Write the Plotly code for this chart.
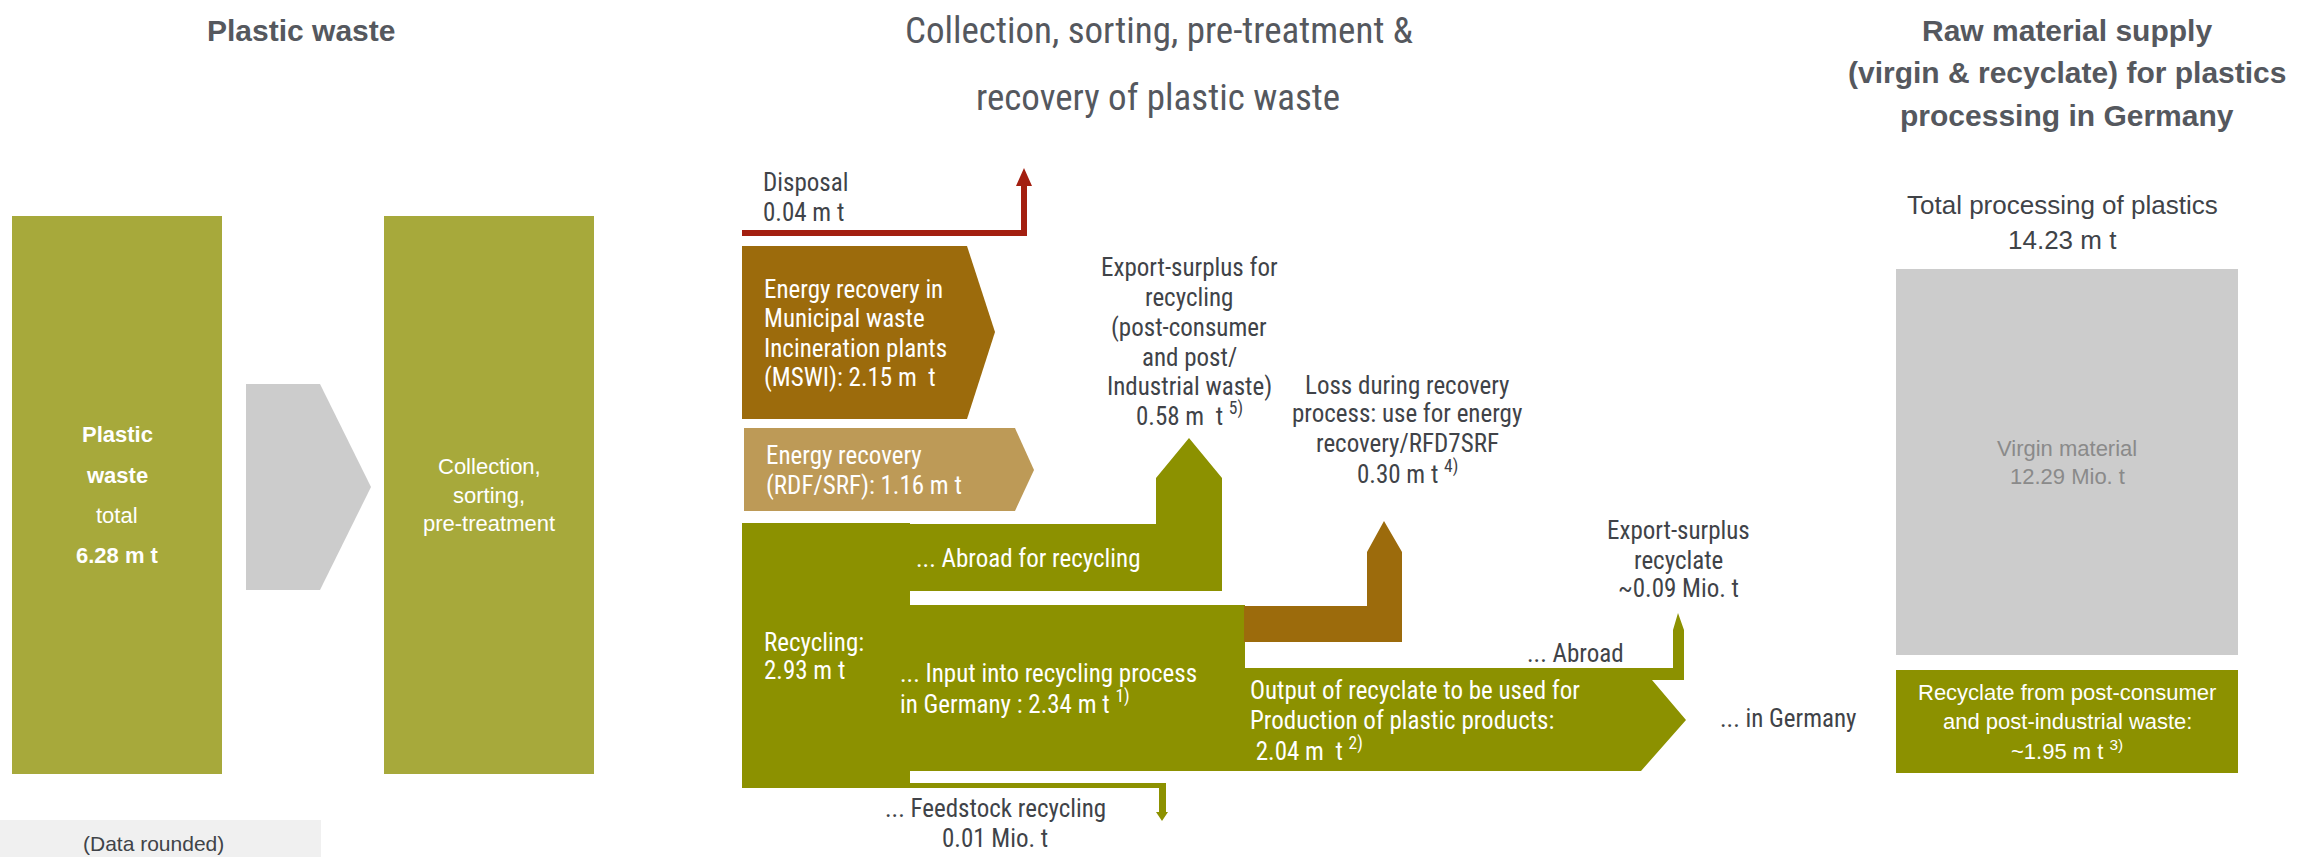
import plotly.graph_objects as go

W, H = 2297, 857

# ---------------- data (million tonnes) ----------------
plastic_waste_total = 6.28
flow_names = ["Disposal", "Energy recovery MSWI", "Energy recovery RDF/SRF", "Recycling",
              "Abroad for recycling", "Input into recycling in Germany", "Feedstock recycling",
              "Loss during recovery", "Output of recyclate", "Export-surplus recyclate"]
flow_values = [0.04, 2.15, 1.16, 2.93, 0.58, 2.34, 0.01, 0.30, 2.04, 0.09]
supply_names = ["Total processing of plastics", "Virgin material", "Recyclate"]
supply_values = [14.23, 12.29, 1.95]
stage_titles = ["Plastic waste",
                "Collection, sorting, pre-treatment &", "recovery of plastic waste",
                "Raw material supply", "(virgin & recyclate) for plastics", "processing in Germany"]

V = dict(zip(flow_names, flow_values))
S = dict(zip(supply_names, supply_values))

# ---------------- styles ----------------
OLIVE_LIGHT = "#a7a93b"
OLIVE = "#8c9100"
BROWN = "#9c6b0c"
TAN = "#bd9a57"
RED = "#a31f10"
GRAY = "#cccccc"
TXT = "#404348"
TITLE = "#55585e"
NARROW = "Roboto Condensed, DejaVu Sans Condensed, sans-serif"
SANS = "Liberation Sans, Arial, Helvetica, sans-serif"
FS = 25  # diagram text size

fig = go.Figure()


def poly(pts, color):
    path = "M " + " L ".join(f"{x} {y}" for x, y in pts) + " Z"
    fig.add_shape(type="path", path=path, fillcolor=color, line_width=0,
                  xref="x", yref="y", layer="below")


def rect(x0, y0, x1, y1, color):
    fig.add_shape(type="rect", x0=x0, y0=y0, x1=x1, y1=y1, fillcolor=color,
                  line_width=0, xref="x", yref="y", layer="below")


def text(x, y, s, size=FS, color=TXT, family=NARROW, anchor="left", bold=False):
    if bold:
        s = f"<b>{s}</b>"
    fig.add_annotation(x=x, y=y, text=s, showarrow=False, xref="x", yref="y",
                       xanchor=anchor, yanchor="middle",
                       font=dict(size=size, color=color, family=family))


def mt(v, sep=" "):
    return f"{v:.2f} m{sep}t"


# ---------------- layout geometry (pixels) ----------------
# left boxes
rect(12, 216, 222, 774, OLIVE_LIGHT)
poly([(246, 384), (320, 384), (371, 487), (320, 590), (246, 590)], GRAY)
rect(384, 216, 594, 774, OLIVE_LIGHT)

# disposal arrow
poly([(742, 230), (1021, 230), (1021, 186), (1016, 186), (1024, 168), (1032, 186),
      (1027, 186), (1027, 236), (742, 236)], RED)
# energy recovery MSWI
poly([(742, 246), (967, 246), (995, 332), (967, 419), (742, 419)], BROWN)
# energy recovery RDF/SRF
poly([(744, 428), (1015, 428), (1034, 470), (1015, 511), (744, 511)], TAN)

# recycling block
rect(742, 523, 910, 788, OLIVE)
# abroad for recycling + export arrow
poly([(909, 524), (1156, 524), (1156, 478), (1189, 438), (1222, 478), (1222, 591), (909, 591)], OLIVE)
# input into recycling in Germany
rect(909, 605, 1245, 771, OLIVE)
# feedstock recycling
poly([(909, 783), (1166, 783), (1166, 812), (1168, 812), (1162, 821), (1156, 812),
      (1159, 812), (1159, 788), (909, 788)], OLIVE)
# loss during recovery
poly([(1244, 606), (1367, 606), (1367, 552), (1384, 521), (1402, 552), (1402, 642), (1244, 642)], BROWN)
# output of recyclate + export abroad
poly([(1244, 668), (1673, 668), (1673, 630), (1678, 613), (1684, 630), (1684, 680),
      (1652, 680), (1686, 720), (1641, 771), (1244, 771)], OLIVE)

# right boxes
rect(1896, 269, 2238, 655, GRAY)
rect(1896, 670, 2238, 773, OLIVE)
# data rounded box
rect(0, 820, 321, 857, "#f0f0f0")

# ---------------- titles ----------------
text(301, 30, stage_titles[0], size=30, color=TITLE, family=SANS, anchor="center", bold=True)
text(1159, 30, stage_titles[1], size=37, color=TITLE, anchor="center")
text(1158, 97, stage_titles[2], size=37, color=TITLE, anchor="center")
for yy, t in zip([30, 72, 115], stage_titles[3:]):
    text(2067, yy, t, size=30, color=TITLE, family=SANS, anchor="center", bold=True)

# ---------------- left box texts ----------------
text(117, 434, "Plastic", size=22, color="white", family=SANS, anchor="center", bold=True)
text(117, 475, "waste", size=22, color="white", family=SANS, anchor="center", bold=True)
text(117, 515, "total", size=22, color="white", family=SANS, anchor="center")
text(117, 555, mt(plastic_waste_total), size=22, color="white", family=SANS, anchor="center", bold=True)
for yy, t in zip([466, 495, 523], ["Collection,", "sorting,", "pre-treatment"]):
    text(489, yy, t, size=22, color="white", family=SANS, anchor="center")
text(153, 843, "(Data rounded)", size=21, color=TXT, family=SANS, anchor="center")

# ---------------- flow texts ----------------
text(761, 182, "Disposal")
text(761, 212, mt(V["Disposal"]))
for yy, t in zip([289, 318, 348, 377], ["Energy recovery in", "Municipal waste", "Incineration plants",
                                        f"(MSWI): {mt(V['Energy recovery MSWI'], '  ')}"]):
    text(762, yy, t, color="white")
text(764, 455, "Energy recovery", color="white")
text(764, 485, f"(RDF/SRF): {mt(V['Energy recovery RDF/SRF'])}", color="white")

for yy, t in zip([267, 297, 327, 357, 386, 414],
                 ["Export-surplus for", "recycling", "(post-consumer", "and post/", "Industrial waste)",
                  f"{mt(V['Abroad for recycling'], '  ')} <sup>5)</sup>"]):
    text(1189, yy, t, anchor="center")

text(914, 558, "... Abroad for recycling", color="white")
text(762, 642, "Recycling:", color="white")
text(762, 670, mt(V["Recycling"]), color="white")
text(898, 673, "... Input into recycling process", color="white")
text(898, 702, f"in Germany : {mt(V['Input into recycling in Germany'])} <sup>1)</sup>", color="white")
text(995, 808, "... Feedstock recycling", anchor="center")
text(995, 838, f"{V['Feedstock recycling']:.2f} Mio. t", anchor="center")

for yy, t in zip([385, 413, 443, 472], ["Loss during recovery", "process: use for energy",
                                        "recovery/RFD7SRF",
                                        f"{mt(V['Loss during recovery'])} <sup>4)</sup>"]):
    text(1407, yy, t, anchor="center")

for yy, t in zip([530, 560, 588], ["Export-surplus", "recyclate",
                                   f"~{V['Export-surplus recyclate']:.2f} Mio. t"]):
    text(1678, yy, t, anchor="center")
text(1626, 653, "... Abroad", anchor="right")
text(1248, 690, "Output of recyclate to be used for", color="white")
text(1248, 720, "Production of plastic products:", color="white")
text(1248, 749, f" {mt(V['Output of recyclate'], '  ')} <sup>2)</sup>", color="white")
text(1718, 718, "... in Germany")

# ---------------- right side texts ----------------
text(2062, 205, supply_names[0], size=26, color=TXT, family=SANS, anchor="center")
text(2062, 240, mt(S["Total processing of plastics"]), size=26, color=TXT, family=SANS, anchor="center")
text(2067, 448, "Virgin material", size=22, color="#8a8a8a", family=SANS, anchor="center")
text(2067, 476, f"{S['Virgin material']:.2f} Mio. t", size=22, color="#8a8a8a", family=SANS, anchor="center")
for yy, t in zip([692, 721, 750], ["Recyclate from post-consumer", "and post-industrial waste:",
                                   f"~{mt(S['Recyclate'])} <sup>3)</sup>"]):
    text(2067, yy, t, size=22, color="white", family=SANS, anchor="center")

fig.update_layout(
    width=W, height=H, margin=dict(l=0, r=0, t=0, b=0),
    paper_bgcolor="white", plot_bgcolor="white", showlegend=False,
    xaxis=dict(range=[0, W], visible=False, fixedrange=True),
    yaxis=dict(range=[H, 0], visible=False, fixedrange=True),
)
fig.write_html("out.html", config={"displayModeBar": False},
               post_script="document.body.style.margin='0px';")
